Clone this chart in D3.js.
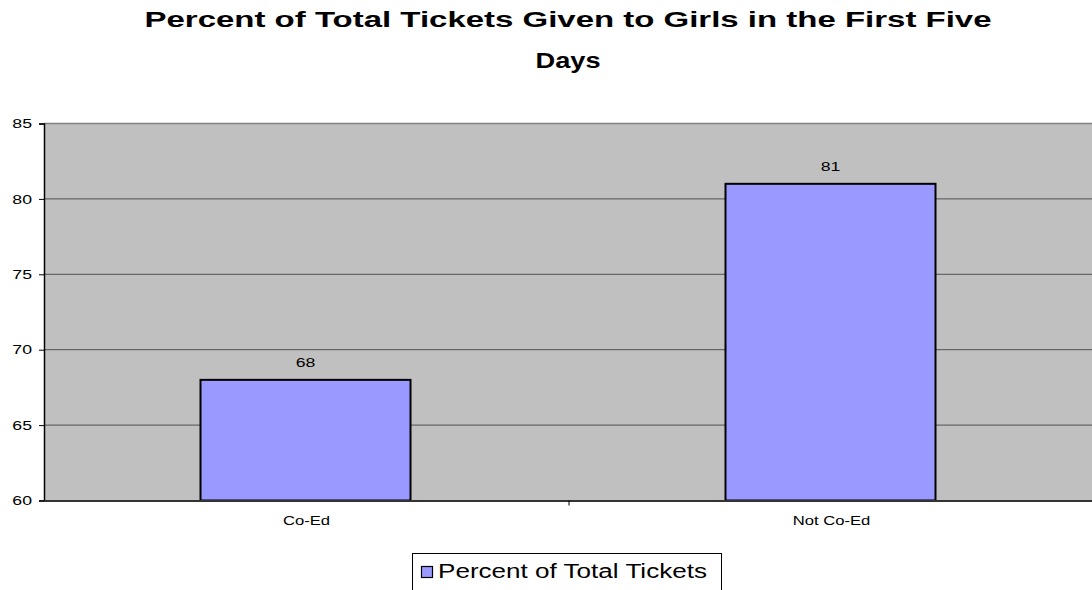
<!DOCTYPE html>
<html><head><meta charset="utf-8">
<script src="https://cdn.jsdelivr.net/npm/d3@7/dist/d3.min.js"></script>
<style>body{margin:0;background:#fff}svg{display:block;font-family:"Liberation Sans",Arial,sans-serif}</style>
</head><body><svg id="c" width="1092" height="590"></svg>
<script>
const categories = ["Co-Ed", "Not Co-Ed"];
const values = [68, 81];
const seriesName = "Percent of Total Tickets";
const yTicks = [60, 65, 70, 75, 80, 85];
const titleLines = ["Percent of Total Tickets Given to Girls in the First Five", "Days"];

const svg = d3.select("#c");
const L = 44, R = 1094, T = 123.5, B = 500.5;
const x = d3.scaleBand().domain(categories).range([L, R]).padding(0);
const y = d3.scaleLinear().domain([60, 85]).range([B, T]);
const SX_NUM = 1.36, SX_TXT = 1.28;

svg.append("rect").attr("x", L).attr("y", T).attr("width", R - L).attr("height", B - T).attr("fill", "#C0C0C0");

// gridlines
svg.append("g").selectAll("line").data(yTicks.filter(d => d > 60)).join("line")
  .attr("x1", L).attr("x2", R).attr("y1", d => y(d)).attr("y2", d => y(d))
  .attr("stroke", d => d === 85 ? "#808080" : "#505050").attr("stroke-width", d => d === 85 ? 1.5 : 1);

// bars
const bw = x.bandwidth() * 0.4;
svg.append("g").selectAll("rect").data(categories).join("rect")
  .attr("x", d => x(d) + (x.bandwidth() - bw) / 2 - 1)
  .attr("y", (d, i) => y(values[i]))
  .attr("width", bw)
  .attr("height", (d, i) => B - y(values[i]))
  .attr("fill", "#9999FF").attr("stroke", "#000").attr("stroke-width", 2);

// value labels
svg.append("g").selectAll("text").data(categories).join("text")
  .attr("transform", (d, i) => `translate(${x(d) + x.bandwidth() / 2 - 1},${y(values[i]) - 13}) scale(${SX_NUM},1)`)
  .attr("text-anchor", "middle").attr("font-size", 13).attr("fill", "#000")
  .text((d, i) => values[i]);

// y axis
const yAxis = d3.axisLeft(y).tickValues(yTicks).tickSize(5).tickPadding(7).tickFormat(d3.format("d"));
const gy = svg.append("g").attr("transform", `translate(${L},0)`).call(yAxis);
gy.select(".domain").attr("stroke", "#000").attr("stroke-width", 1.5);
gy.selectAll(".tick line").attr("stroke", "#000");
gy.selectAll("text").attr("x", 0).attr("transform", `translate(-12,0) scale(${SX_NUM},1)`)
  .attr("font-size", 13).attr("fill", "#000").attr("font-family", "Liberation Sans, Arial, sans-serif");

// x axis
const xAxis = d3.axisBottom(x).tickSize(0).tickPadding(15);
const gx = svg.append("g").attr("transform", `translate(0,${B})`).call(xAxis);
gx.select(".domain").attr("stroke", "#333").attr("stroke-width", 2);
gx.selectAll("text").attr("transform", `scale(${SX_TXT},1)`)
  .attr("font-size", 13).attr("fill", "#000").attr("font-family", "Liberation Sans, Arial, sans-serif");
gx.append("g").selectAll("line").data(categories.slice(1)).join("line")
  .attr("x1", d => x(d)).attr("x2", d => x(d)).attr("y1", 0).attr("y2", 5)
  .attr("stroke", "#000");

// title
const titleLen = [847, 65];
svg.append("g").selectAll("text").data(titleLines).join("text")
  .attr("x", 568).attr("y", (d, i) => 27 + i * 41)
  .attr("text-anchor", "middle").attr("font-size", 22).attr("font-weight", "bold").attr("fill", "#000")
  .attr("textLength", (d, i) => titleLen[i]).attr("lengthAdjust", "spacingAndGlyphs")
  .text(d => d);

// legend
const lg = svg.append("g");
lg.append("rect").attr("x", 412.5).attr("y", 553.5).attr("width", 309).attr("height", 40)
  .attr("fill", "#fff").attr("stroke", "#000").attr("stroke-width", 1);
lg.append("rect").attr("x", 421.5).attr("y", 566.5).attr("width", 11).attr("height", 11)
  .attr("fill", "#9999FF").attr("stroke", "#000").attr("stroke-width", 1.2);
lg.append("text").attr("x", 438).attr("y", 578).attr("font-size", 19.5).attr("fill", "#000")
  .attr("textLength", 269).attr("lengthAdjust", "spacingAndGlyphs").text(seriesName);
</script></body></html>
